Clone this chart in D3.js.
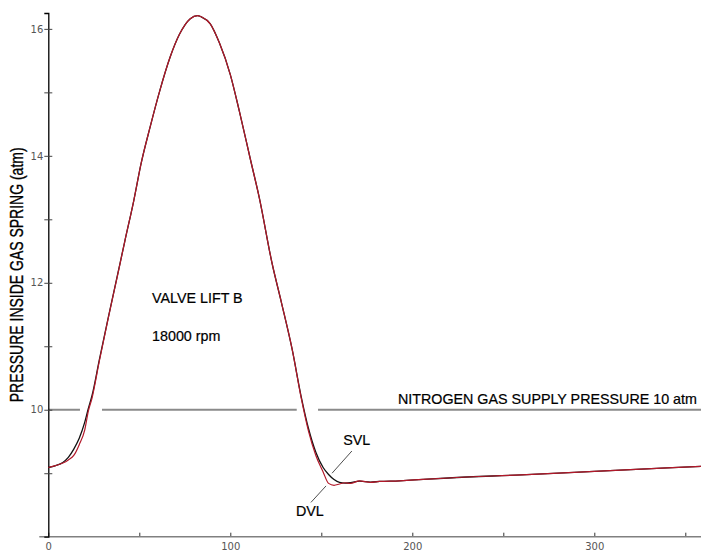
<!DOCTYPE html>
<html>
<meta charset='utf-8'>
<head>
<title>gas spring pressure</title>
<script src='https://d3js.org/d3.v7.min.js'></script>
<style>
  body { margin: 0; background: #fff; }
  svg text { font-family: 'Liberation Sans', Arial, sans-serif; }
</style>
</head>
<body>
<div id='chart'></div>
<script>
// crank angle (deg) and pressure (atm)
var angles = [0, 4, 8, 11, 14, 17, 20, 22, 24, 28, 33, 38, 42, 47, 51, 56, 61, 67, 72, 78, 82, 84, 89, 94,
  100, 105, 111, 116, 123, 128, 134, 139, 143, 147, 151, 154, 157, 160, 163, 166, 171, 177, 182, 193, 199,
  220, 260, 300, 340, 360]
var svl = [9.09, 9.12, 9.17, 9.25, 9.38, 9.55, 9.80, 10.02, 10.22, 10.78, 11.46, 12.12, 12.65, 13.30, 13.88,
  14.46, 15.00, 15.56, 15.91, 16.16, 16.21, 16.19, 16.08, 15.78, 15.28, 14.70, 13.95, 13.33, 12.30, 11.70,
  10.95, 10.20, 9.70, 9.33, 9.09, 8.98, 8.90, 8.855, 8.845, 8.85, 8.875, 8.86, 8.87, 8.88, 8.89,
  8.925, 8.975, 9.03, 9.085, 9.11]
var dvl = [9.09, 9.12, 9.16, 9.21, 9.28, 9.45, 9.68, 9.98, 10.18, 10.76, 11.45, 12.11, 12.65, 13.30, 13.88,
  14.46, 15.00, 15.56, 15.91, 16.16, 16.21, 16.19, 16.08, 15.78, 15.28, 14.70, 13.95, 13.33, 12.30, 11.70,
  10.95, 10.18, 9.66, 9.28, 9.02, 8.84, 8.81, 8.83, 8.85, 8.84, 8.88, 8.855, 8.87, 8.88, 8.89,
  8.925, 8.975, 9.03, 9.085, 9.11]
var supplyPressure = 10
var supplyGaps = [[17.4, 29.5], [136.5, 148.2]]   // where the reference line is broken by the curves
var xTicks = [0, 50, 100, 150, 200, 250, 300, 350]
var xLabels = [0, 100, 200, 300]
var yTicks = [9, 10, 11, 12, 13, 14, 15, 16]
var yLabels = [10, 12, 14, 16]

var notes = [
  {text: 'VALVE LIFT B', a: 57, p: 11.68, anchor: 'start'},
  {text: '18000 rpm', a: 57, p: 11.08, anchor: 'start'},
  {text: 'NITROGEN GAS SUPPLY PRESSURE 10 atm', a: 356.4, p: 10.09, anchor: 'end'},
  {text: 'SVL', a: 162, p: 9.44, anchor: 'start'},
  {text: 'DVL', a: 136.1, p: 8.33, anchor: 'start'}
]
var leaders = [
  {a1: 166.8, p1: 9.35, a2: 155.9, p2: 9.00},
  {a1: 144.3, p1: 8.54, a2: 152.6, p2: 8.80}
]

var width = 701, height = 551

var svg = d3.select('#chart').append('svg')
  .attr('width', width)
  .attr('height', height)

var x = d3.scaleLinear().domain([0, 360]).range([48.3, 703.5])
var y = d3.scaleLinear().domain([8, 16.25]).range([536.7, 13])

// supply pressure line
svg.append('line')
  .attr('x1', x(0)).attr('x2', width)
  .attr('y1', y(supplyPressure)).attr('y2', y(supplyPressure))
  .attr('stroke', '#8a8a8a').attr('stroke-width', 2)
svg.selectAll('.gap')
  .data(supplyGaps)
  .enter().append('rect')
  .attr('x', function(d) { return x(d[0]) })
  .attr('width', function(d) { return x(d[1]) - x(d[0]) })
  .attr('y', y(supplyPressure) - 2)
  .attr('height', 4)
  .attr('fill', '#fff')

// x axis
var xAxis = svg.append('g')
  .attr('transform', 'translate(0,' + y(8) + ')')
  .call(d3.axisBottom(x).tickValues(xTicks).tickSize(-4).tickPadding(6)
    .tickFormat(function(d) { return xLabels.indexOf(d) >= 0 ? d : '' }))
xAxis.select('.domain').remove()
xAxis.append('line')
  .attr('x1', x.range()[0] - 9).attr('x2', width)
  .attr('stroke', '#808080').attr('stroke-width', 1.5)
xAxis.selectAll('.tick line').attr('stroke', '#333')
xAxis.selectAll('.tick text')
  .style('font-family', "'DejaVu Sans', Verdana, sans-serif")
  .style('font-size', '10px')
  .attr('fill', '#555')

// y axis
var yAxis = svg.append('g')
  .attr('transform', 'translate(' + x(0) + ',0)')
  .call(d3.axisLeft(y).tickValues(yTicks).tickSize(4).tickPadding(1)
    .tickFormat(function(d) { return yLabels.indexOf(d) >= 0 ? d : '' }))
yAxis.select('.domain').attr('stroke', '#000').attr('stroke-width', 1.3)
yAxis.selectAll('.tick line').attr('x2', -4).attr('x1', 4).attr('stroke', '#444')
yAxis.selectAll('.tick text')
  .style('font-family', "'DejaVu Sans', Verdana, sans-serif")
  .style('font-size', '10px')
  .attr('fill', '#555')

// axis title, a little stretched across its baseline like the original
svg.append('text')
  .attr('transform', 'translate(22.5,' + (y(8) + y(16.25)) / 2 + ') rotate(-90) scale(1,1.3)')
  .attr('text-anchor', 'middle')
  .style('font-size', '14px')
  .attr('fill', '#000')
  .attr('stroke', '#000')
  .attr('stroke-width', 0.25)
  .text('PRESSURE INSIDE GAS SPRING (atm)')

// curves
var line = d3.line()
  .x(function(d) { return x(d[0]) })
  .y(function(d) { return y(d[1]) })
  .curve(d3.curveMonotoneX)

svg.append('path')
  .datum(angles.map(function(a, i) { return [a, svl[i]] }))
  .attr('d', line)
  .attr('fill', 'none')
  .attr('stroke', '#111')
  .attr('stroke-width', 1.3)
svg.append('path')
  .datum(angles.map(function(a, i) { return [a, dvl[i]] }))
  .attr('d', line)
  .attr('fill', 'none')
  .attr('stroke', '#b3192a')
  .attr('stroke-width', 1.2)

// annotations
svg.selectAll('.leader')
  .data(leaders)
  .enter().append('line')
  .attr('x1', function(d) { return x(d.a1) })
  .attr('y1', function(d) { return y(d.p1) })
  .attr('x2', function(d) { return x(d.a2) })
  .attr('y2', function(d) { return y(d.p2) })
  .attr('stroke', '#222')
  .attr('stroke-width', 0.8)

svg.selectAll('.note')
  .data(notes)
  .enter().append('text')
  .attr('x', function(d) { return x(d.a) })
  .attr('y', function(d) { return y(d.p) })
  .attr('text-anchor', function(d) { return d.anchor })
  .style('font-size', '14.3px')
  .attr('fill', '#000')
  .attr('stroke', '#000')
  .attr('stroke-width', 0.2)
  .text(function(d) { return d.text })
</script>
</body>
</html>
